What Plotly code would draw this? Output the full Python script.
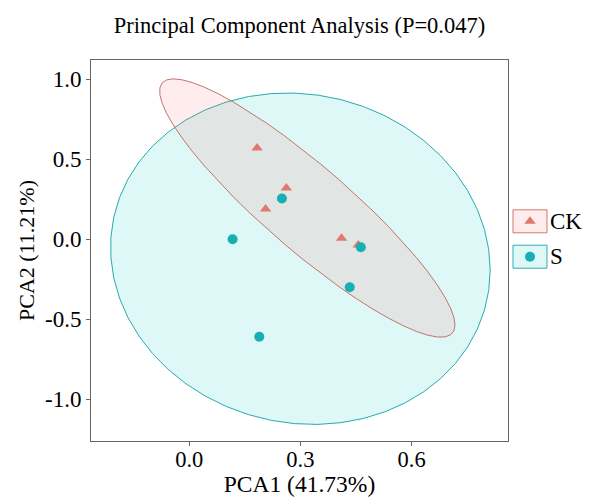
import numpy as np
import plotly.graph_objects as go

# sample scores
ck_x = [0.183, 0.262, 0.206, 0.411, 0.456]
ck_y = [0.569, 0.319, 0.189, 0.006, -0.036]
s_x = [0.250, 0.117, 0.463, 0.433, 0.189]
s_y = [0.254, 0.000, -0.050, -0.300, -0.609]

groups = ["CK", "S"]
x_ticks = [0.0, 0.3, 0.6]
x_tick_text = ["0.0", "0.3", "0.6"]
y_ticks = [-1.0, -0.5, 0.0, 0.5, 1.0]
y_tick_text = ["-1.0", "-0.5", "0.0", "0.5", "1.0"]

FONT = "Liberation Serif, Times New Roman, serif"
CK_COLOR = "#E07870"
S_COLOR = "#16AFB4"


def cov_trob(pts, nu=5, maxit=25, tol=0.01):
    # port of MASS::cov.trob, as used by ggplot2 stat_ellipse(type = "t")
    n, p = pts.shape
    wt = np.ones(n)
    loc = pts.mean(axis=0)
    w = np.sqrt(wt)
    X = pts - loc
    for _ in range(maxit):
        w0 = w
        X = pts - loc
        _, d, vt = np.linalg.svd(np.sqrt(w / w.sum())[:, None] * X, full_matrices=False)
        wX = X @ vt.T @ np.diag(1 / d)
        q = (wX ** 2).sum(axis=1)
        w = wt * (nu + p) / (nu + q)
        loc = (w[:, None] * pts).sum(axis=0) / w.sum()
        if np.all(np.abs(w - w0) < tol):
            break
    sx = np.sqrt(w)[:, None] * X
    return loc, sx.T @ sx / wt.sum()


def ellipse(xs, ys, level=0.95, segments=51):
    pts = np.column_stack([xs, ys])
    center, shape = cov_trob(pts)
    dfd = len(xs) - 1
    fq = dfd / 2 * ((1 - level) ** (-2 / dfd) - 1)  # qf(level, 2, dfd)
    radius = np.sqrt(2 * fq)
    upper = np.linalg.cholesky(shape).T
    ang = np.linspace(0, 2 * np.pi, segments + 1)
    circle = np.column_stack([np.cos(ang), np.sin(ang)])
    out = center + radius * circle @ upper
    return out[:, 0], out[:, 1]


fig = go.Figure()

sex, sey = ellipse(s_x, s_y)
fig.add_trace(go.Scatter(x=sex, y=sey, mode="lines", fill="toself",
                         fillcolor="rgba(0,191,196,0.13)",
                         line=dict(color="rgba(30,165,170,0.95)", width=1),
                         showlegend=False, hoverinfo="skip"))
cex, cey = ellipse(ck_x, ck_y)
fig.add_trace(go.Scatter(x=cex, y=cey, mode="lines", fill="toself",
                         fillcolor="rgba(248,118,109,0.13)",
                         line=dict(color="rgba(190,110,100,0.95)", width=1),
                         showlegend=False, hoverinfo="skip"))

fig.add_trace(go.Scatter(x=ck_x, y=ck_y, mode="markers", name="CK",
                         marker=dict(symbol="triangle-up", size=10, color=CK_COLOR),
                         showlegend=False))
fig.add_trace(go.Scatter(x=s_x, y=s_y, mode="markers", name="S",
                         marker=dict(symbol="circle", size=10, color=S_COLOR),
                         showlegend=False))

# hand-drawn legend keys on a small side axis (pixel-like units)
key_y = [161.3, 196.7]
fig.add_trace(go.Scatter(x=[22, 22], y=key_y, mode="markers", xaxis="x2", yaxis="y2",
                         marker=dict(symbol=["triangle-up", "circle"], size=10,
                                     color=[CK_COLOR, S_COLOR]),
                         showlegend=False, hoverinfo="skip"))
for name, yc, fill, edge in zip(groups, key_y,
                                ["rgba(248,118,109,0.13)", "rgba(0,191,196,0.13)"],
                                ["rgba(200,110,100,0.9)", "rgba(30,165,170,0.9)"]):
    fig.add_shape(type="rect", xref="x2", yref="y2", x0=5, x1=39, y0=yc - 11.5, y1=yc + 11.5,
                  fillcolor=fill, line=dict(color=edge, width=1), layer="below")
    fig.add_annotation(x=40, y=yc, xref="x2", yref="y2", text=name, showarrow=False,
                       xanchor="left", font=dict(family=FONT, size=23, color="black"))

main_frac = 417 / 491
fig.update_layout(
    width=592, height=497,
    margin=dict(l=91, r=10, t=60, b=56, autoexpand=False),
    paper_bgcolor="white", plot_bgcolor="white",
    font=dict(family=FONT, size=20, color="black"),
    title=dict(text="Principal Component Analysis (P=0.047)", x=(91 + 417 / 2) / 592,
               xanchor="center", y=1 - 25 / 497, yanchor="middle",
               font=dict(family=FONT, size=22.5, color="black")),
    xaxis=dict(domain=[0, main_frac], range=[-0.265, 0.86], tickvals=x_ticks,
               ticktext=x_tick_text, showgrid=False, zeroline=False, showline=True,
               linecolor="#666", linewidth=1, mirror=True, ticks="outside", ticklen=4,
               tickcolor="#666", tickfont=dict(size=22.5), automargin=False,
               ticklabelstandoff=-6,
               title=dict(text="PCA1 (41.73%)", standoff=4, font=dict(size=23.5))),
    yaxis=dict(range=[-1.26, 1.119], tickvals=y_ticks, ticktext=y_tick_text,
               showgrid=False, zeroline=False, showline=True, linecolor="#666",
               linewidth=1, mirror=True, ticks="outside", ticklen=4, tickcolor="#666",
               tickfont=dict(size=23), automargin=False,
               title=dict(text="PCA2 (11.21%)", standoff=4, font=dict(size=22))),
    xaxis2=dict(domain=[main_frac, 1], range=[0, 74], visible=False, anchor="y2"),
    yaxis2=dict(domain=[0, 1], range=[381, 0], visible=False, anchor="x2"),
)

fig.write_html("out.html", config={"displayModeBar": False},
               post_script="document.body.style.margin = '0';")
